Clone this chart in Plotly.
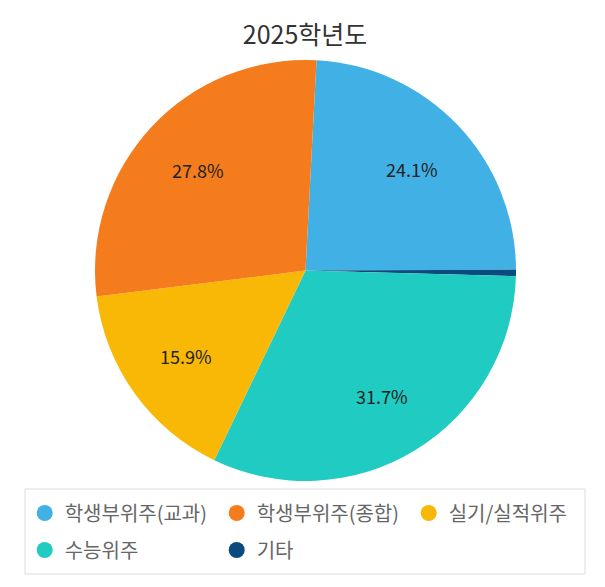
import math

import plotly.graph_objects as go

# slice order around the pie (clockwise from top)
labels = ["학생부위주(교과)", "기타", "수능위주", "실기/실적위주", "학생부위주(종합)"]
values = [24.1, 0.5, 31.7, 15.9, 27.8]
colors = ["#41B0E4", "#0B4A7D", "#20CBC1", "#F8B805", "#F57C1C"]

# legend rows
legend_row1 = ["학생부위주(교과)", "학생부위주(종합)", "실기/실적위주"]
legend_row2 = ["수능위주", "기타"]

FONT = "Noto Sans CJK KR"
W, H = 605, 587
ROTATION = 3
PIE_X = [0.1438, 0.8397]
PIE_Y = [0.1942, 0.9114]

fig = go.Figure()

fig.add_trace(
    go.Pie(
        labels=labels,
        values=values,
        sort=False,
        direction="clockwise",
        rotation=ROTATION,
        marker=dict(colors=colors, line=dict(width=0)),
        textinfo="none",
        showlegend=False,
        domain=dict(x=PIE_X, y=PIE_Y),
        hoverinfo="label+percent",
    )
)

# percent labels placed at 70% of the radius on each slice bisector
cx = sum(PIE_X) / 2
cy = sum(PIE_Y) / 2
r_px = (PIE_X[1] - PIE_X[0]) * W / 2
total = sum(values)
cum = 0
for lab, v in zip(labels, values):
    mid = math.radians(ROTATION + 360 * (cum + v / 2) / total)
    cum += v
    if v < 1:
        continue
    fig.add_annotation(
        x=cx + 0.7 * r_px * math.sin(mid) / W,
        y=cy + 0.7 * r_px * math.cos(mid) / H,
        xref="paper",
        yref="paper",
        xanchor="center",
        yanchor="middle",
        text=f"{v / total * 100:.1f}%",
        showarrow=False,
        font=dict(family=FONT, size=18, color="#222"),
    )

# legend entries with round markers, split in two rows
color_of = dict(zip(labels, colors))
for legend_id, row in [("legend", legend_row1), ("legend2", legend_row2)]:
    for name in row:
        fig.add_trace(
            go.Scatter(
                x=[None],
                y=[None],
                mode="markers",
                name=name,
                legend=legend_id,
                marker=dict(symbol="circle", size=17, color=color_of[name]),
            )
        )

legend_style = dict(
    orientation="h",
    x=0.0276,
    xanchor="left",
    yanchor="middle",
    entrywidth=147,
    bgcolor="rgba(0,0,0,0)",
    borderwidth=0,
    font=dict(family=FONT, size=20, color="#666"),
    itemsizing="trace",
)

fig.update_layout(
    width=W,
    height=H,
    margin=dict(l=0, r=0, t=0, b=0),
    paper_bgcolor="white",
    plot_bgcolor="white",
    font=dict(family=FONT),
    title=dict(
        text="2025학년도",
        x=0.491,
        xanchor="center",
        y=0.954,
        yanchor="middle",
        font=dict(family=FONT, size=25, color="#333"),
    ),
    xaxis=dict(visible=False),
    yaxis=dict(visible=False),
    legend=dict(legend_style, y=0.1397),
    legend2=dict(legend_style, y=0.0767),
    shapes=[
        dict(
            type="rect",
            xref="paper",
            yref="paper",
            x0=0.0281,
            x1=0.9537,
            y0=0.0358,
            y1=0.1806,
            line=dict(color="#dddddd", width=1),
            fillcolor="rgba(0,0,0,0)",
            layer="below",
        )
    ],
)

fig.write_html("out.html")
